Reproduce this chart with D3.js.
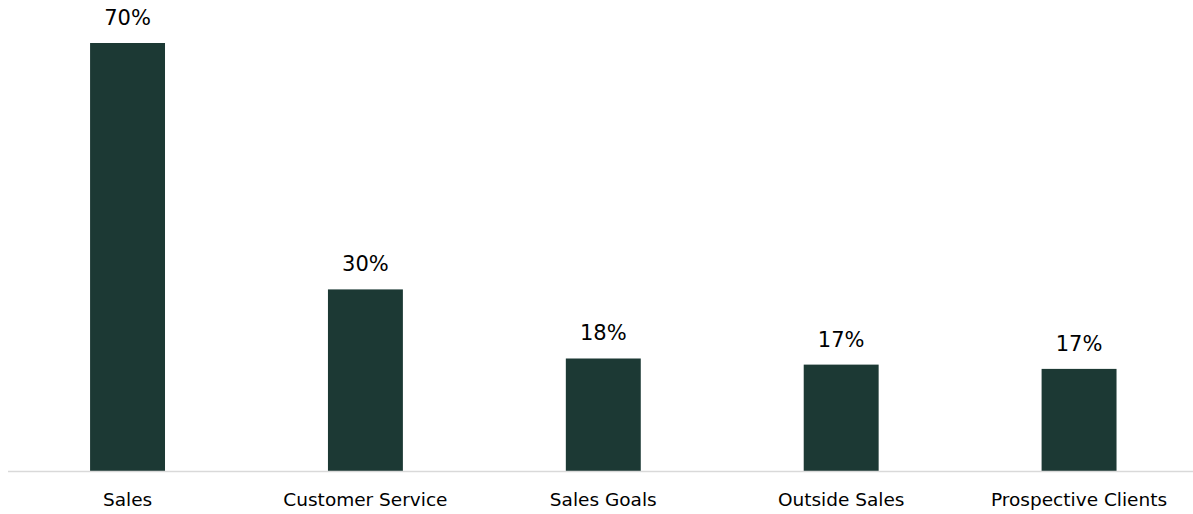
<!DOCTYPE html>
<html>
<head>
<meta charset="utf-8">
<script src="https://cdn.jsdelivr.net/npm/d3@7"></script>
<style>
  body { margin: 0; background: #fff; }
  text { font-family: "DejaVu Sans", sans-serif; fill: #000; }
</style>
</head>
<body>
<div id="chart"></div>
<script>
// datos
var categories = ['Sales', 'Customer Service', 'Sales Goals', 'Outside Sales', 'Prospective Clients'];
var values = [70, 29.7, 18.4, 17.4, 16.7];

var w = 1193
var h = 514
var baseY = 471

var svg = d3.select('#chart')
    .append('svg')
    .attr('width', w)
    .attr('height', h);

var x = d3.scaleBand()
    .domain(categories)
    .range([8.6, 1198])
    .paddingInner(0.685)
    .paddingOuter(0.3425);

var y = d3.scaleLinear()
    .domain([0, 70])
    .range([baseY, 43]);

// barras
svg.selectAll('rect.bar')
    .data(values)
    .enter()
    .append('rect')
    .attr('class', 'bar')
    .attr('x', (d, i) => x(categories[i]))
    .attr('width', x.bandwidth())
    .attr('y', d => y(d))
    .attr('height', d => y(0) - y(d))
    .attr('fill', '#1c3934');

// linea base
svg.append('line')
    .attr('x1', 8).attr('x2', w)
    .attr('y1', baseY + 0.5).attr('y2', baseY + 0.5)
    .attr('stroke', '#d9d9d9')
    .attr('stroke-width', 1.5);

// etiquetas de valor
svg.selectAll('text.val')
    .data(values)
    .enter()
    .append('text')
    .attr('class', 'val')
    .attr('x', (d, i) => x(categories[i]) + x.bandwidth() / 2)
    .attr('y', d => y(d) - 18)
    .attr('text-anchor', 'middle')
    .style('font-size', '21px')
    .text(d => Math.round(d) + '%');

// categorias
svg.selectAll('text.cat')
    .data(categories)
    .enter()
    .append('text')
    .attr('class', 'cat')
    .attr('x', d => x(d) + x.bandwidth() / 2)
    .attr('y', 506)
    .attr('text-anchor', 'middle')
    .style('font-size', '18.5px')
    .text(d => d);
</script>
</body>
</html>
